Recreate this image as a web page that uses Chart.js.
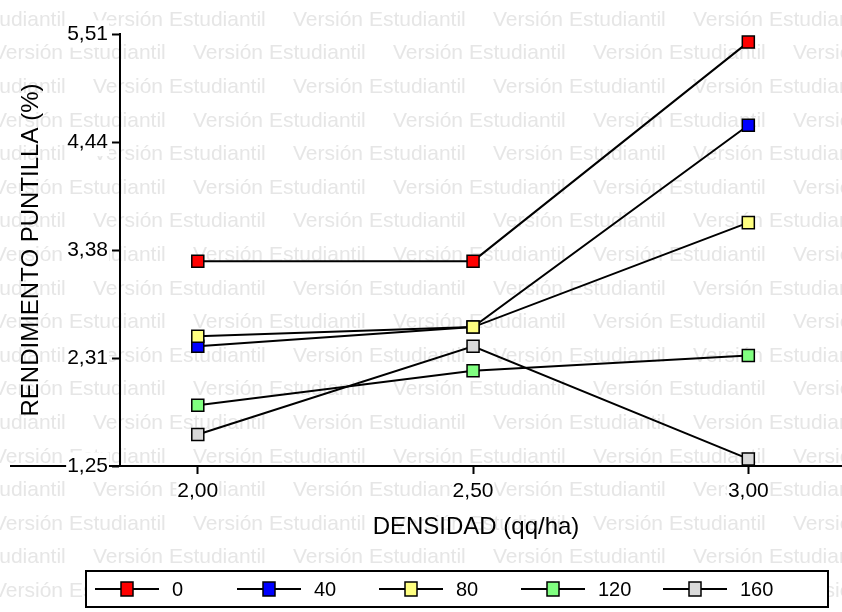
<!DOCTYPE html>
<html>
<head>
<meta charset="utf-8">
<script src="https://cdn.jsdelivr.net/npm/chart.js@4"></script>
<style>
  body { margin: 0; background: #fff; }
  canvas { display: block; }
</style>
</head>
<body>
<canvas id="chart" width="842" height="612"></canvas>
<script>
// values
const densidad = [2.00, 2.50, 3.00];
const seriesLabels = ['0', '40', '80', '120', '160'];
const serie0 = [3.27, 3.27, 5.43];
const serie40 = [2.43, 2.62, 4.61];
const serie80 = [2.53, 2.62, 3.65];
const serie120 = [1.85, 2.19, 2.34];
const serie160 = [1.56, 2.43, 1.32];
const yTicks = [1.25, 2.31, 3.38, 4.44, 5.51];
const xTicks = [2.00, 2.50, 3.00];

const allSeries = [serie0, serie40, serie80, serie120, serie160];
const fillColors = ['#ff0000', '#0000ff', '#ffff80', '#80ff80', '#d9d9d9'];
const fmt = v => Number(v).toFixed(2).replace('.', ',');

// grey "Versión Estudiantil" background text + x axis line running to both edges
const background = {
    id: 'background',
    beforeDraw(chart) {
        const ctx = chart.ctx;
        const area = chart.chartArea;
        ctx.save();
        ctx.fillStyle = '#fff';
        ctx.fillRect(0, 0, chart.width, chart.height);
        ctx.font = '21px "Liberation Sans"';
        ctx.fillStyle = '#e6e6e6';
        ctx.textBaseline = 'middle';
        for (let row = 0; row < 18; row++) {
            const y = 20 + row * 33.6;
            const start = row % 2 === 0 ? -107 : -7;
            for (let x = start; x < chart.width; x += 200) {
                ctx.fillText('Versión Estudiantil', x, y);
            }
        }
        ctx.strokeStyle = '#000';
        ctx.lineWidth = 2;
        ctx.beginPath();
        ctx.moveTo(10, area.bottom);
        ctx.lineTo(chart.width, area.bottom);
        ctx.stroke();
        ctx.restore();
    }
};

// boxed legend at the bottom
const legendBox = {
    id: 'legendBox',
    afterDraw(chart) {
        const ctx = chart.ctx;
        ctx.save();
        ctx.strokeStyle = '#000';
        ctx.lineWidth = 2;
        ctx.fillStyle = '#fff';
        ctx.fillRect(86, 571, 742, 36);
        ctx.strokeRect(86, 571, 742, 36);
        const y = 589;
        ctx.font = '20px "Liberation Sans"';
        ctx.textBaseline = 'middle';
        chart.data.datasets.forEach((ds, i) => {
            const cx = 127 + 142 * i;
            ctx.lineWidth = 2;
            ctx.beginPath();
            ctx.moveTo(cx - 32, y);
            ctx.lineTo(cx + 32, y);
            ctx.stroke();
            ctx.fillStyle = ds.pointBackgroundColor;
            ctx.fillRect(cx - 6, y - 7, 12, 14);
            ctx.lineWidth = 1.5;
            ctx.strokeRect(cx - 6, y - 7, 12, 14);
            ctx.fillStyle = '#000';
            ctx.fillText(ds.label, cx + 45, y + 1);
        });
        ctx.restore();
    }
};

new Chart(document.getElementById('chart'), {
    type: 'line',
    data: {
        datasets: allSeries.map((s, i) => ({
            label: seriesLabels[i],
            data: densidad.map((d, j) => ({ x: d, y: s[j] })),
            borderColor: '#000',
            borderWidth: 2,
            tension: 0,
            pointStyle: 'rect',
            pointRadius: 8.5,
            pointHoverRadius: 8.5,
            pointBackgroundColor: fillColors[i],
            pointBorderColor: '#000',
            pointBorderWidth: 1.5,
            order: allSeries.length - i,
            clip: false
        }))
    },
    options: {
        responsive: false,
        animation: false,
        layout: { padding: { top: 34, left: 0, right: 0, bottom: 0 } },
        plugins: {
            legend: { display: false },
            tooltip: { enabled: false }
        },
        scales: {
            x: {
                type: 'linear',
                min: 1.8587,
                max: 3.152,
                afterBuildTicks: scale => { scale.ticks = xTicks.map(v => ({ value: v })); },
                afterFit: scale => { scale.height = 146; },
                border: { display: true, color: '#000', width: 2 },
                grid: { drawOnChartArea: false, drawTicks: true, tickLength: 8, tickColor: '#000', tickWidth: 2 },
                ticks: {
                    color: '#000',
                    padding: 5,
                    maxRotation: 0,
                    showLabelBackdrop: true,
                    backdropColor: '#fff',
                    backdropPadding: 1,
                    font: { family: 'Liberation Sans', size: 21 },
                    callback: v => fmt(v)
                },
                title: {
                    display: true,
                    text: 'DENSIDAD (qq/ha)',
                    color: '#000',
                    font: { family: 'Liberation Sans', size: 24 },
                    padding: { top: 0, bottom: 70 }
                }
            },
            y: {
                min: 1.25,
                max: 5.51,
                afterBuildTicks: scale => { scale.ticks = yTicks.map(v => ({ value: v })); },
                afterFit: scale => { scale.width = 120; },
                border: { display: true, color: '#000', width: 2 },
                grid: { drawOnChartArea: false, drawTicks: true, tickLength: 8, tickColor: '#000', tickWidth: 2 },
                ticks: {
                    color: '#000',
                    padding: 4,
                    showLabelBackdrop: true,
                    backdropColor: '#fff',
                    backdropPadding: 1,
                    font: { family: 'Liberation Sans', size: 21 },
                    callback: v => fmt(v)
                },
                title: {
                    display: true,
                    text: 'RENDIMIENTO PUNTILLA (%)',
                    color: '#000',
                    font: { family: 'Liberation Sans', size: 24 },
                    padding: { top: 17, bottom: 0 }
                }
            }
        }
    },
    plugins: [background, legendBox]
});
</script>
</body>
</html>
